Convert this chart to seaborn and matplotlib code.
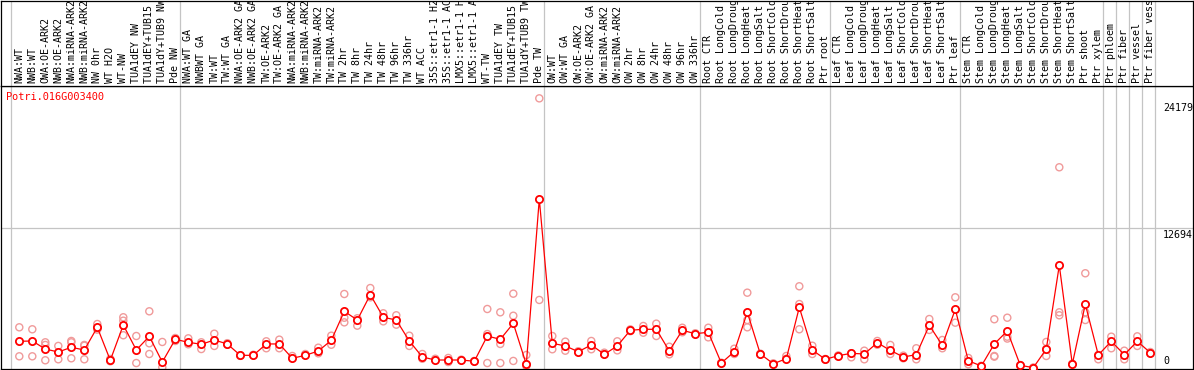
import matplotlib
matplotlib.use("Agg")
import matplotlib.pyplot as plt
import seaborn as sns
import pandas as pd
from matplotlib import transforms

gene = "Potri.016G003400"

labels = [
    "NWA:WT", "NWB:WT", "OWA:OE-ARK2", "NWB:OE-ARK2", "NWA:miRNA-ARK2", "NWB:miRNA-ARK2",
    "NW 0hr", "WT H2O", "WT-NW", "TUA1dEY NW", "TUA1dEY+TUB15 NW", "TUA1dY+TUB9 NW", "Pde NW",
    "NWA:WT GA", "NWBWT GA", "TW:WT", "TW:WT GA", "NWA:OE-ARK2 GA", "NWB:OE-ARK2 GA",
    "TW:OE-ARK2", "TW:OE-ARK2 GA", "NWA:miRNA-ARK2", "NWB:miRNA-ARK2", "TW:miRNA-ARK2",
    "TW:miRNA-ARK2", "TW 2hr", "TW 8hr", "TW 24hr", "TW 48hr", "TW 96hr", "TW 336hr", "WT ACC",
    "35S::etr1-1 H2O", "35S::etr1-1 ACC", "LMX5::etr1-1 H2O", "LMX5::etr1-1 ACC", "WT-TW",
    "TUA1dEY TW", "TUA1dEY+TUB15 TW", "TUA1dY+TUB9 TW", "Pde TW",
    "OW:WT", "OW:WT GA", "OW:OE-ARK2", "OW:OE-ARK2 GA", "OW:miRNA-ARK2", "OW:miRNA-ARK2",
    "OW 2hr", "OW 8hr", "OW 24hr", "OW 48hr", "OW 96hr", "OW 336hr",
    "Root CTR", "Root LongCold", "Root LongDrought", "Root LongHeat", "Root LongSalt",
    "Root ShortCold", "Root ShortDrought", "Root ShortHeat", "Root ShortSalt", "Ptr root",
    "Leaf CTR", "Leaf LongCold", "Leaf LongDrought", "Leaf LongHeat", "Leaf LongSalt",
    "Leaf ShortCold", "Leaf ShortDrought", "Leaf ShortHeat", "Leaf ShortSalt", "Ptr leaf",
    "Stem CTR", "Stem LongCold", "Stem LongDrought", "Stem LongHeat", "Stem LongSalt",
    "Stem ShortCold", "Stem ShortDrought", "Stem ShortHeat", "Stem ShortSalt", "Ptr shoot",
    "Ptr xylem", "Ptr phloem", "Ptr fiber", "Ptr vessel", "Ptr fiber vessel",
]

means = [
    2420, 2450, 1720, 1450, 1880, 1630, 3690, 700, 3900, 1630, 2870, 540, 2600,
    2330, 2150, 2540, 2180, 1150, 1150, 2180, 2180, 880, 1150, 1540, 2510, 5140, 4350,
    6650, 4600, 4350, 2450, 1000, 725, 725, 725, 610, 2900, 2600, 4050, 335, 15320,
    2240, 2000, 1480, 2090, 1240, 2000, 3420, 3510, 3510, 1540, 3420, 3110,
    3240, 450, 1480, 5050, 1270, 390, 840, 5500, 1630, 790,
    1120, 1330, 1270, 2290, 1600, 1000, 1210, 3870, 2060, 5320,
    660, 180, 2180, 3360, 245, 30, 1720, 9310, 360, 5780, 1180,
    2420, 1210, 2420, 1390,
]

replicates = [
    [3690, 1060], [3510, 1060], [2330, 2090, 700], [2000, 790], [2450, 2330, 880],
    [2090, 2020, 790], [3990, 3600, 3480], [820, 610], [4600, 4290, 2970], [2900, 450],
    [5140, 2240, 1270], [2360, 60], [2720, 2450],
    [2690, 2150], [2330, 1720], [3110, 2000], [2250, 2120], [1150, 1100], [1150, 1200],
    [2420, 1790], [2570, 1790], [1090, 880], [1270, 1150], [1840, 1330], [2930, 2110],
    [6710, 4560, 4140], [4510, 3840], [7250, 6410], [4960, 4230], [4780, 3930],
    [2930, 2000], [1270, 840], [840, 725], [910, 540], [760, 700], [640, 580],
    [5350, 3080, 450], [5050, 2180, 450], [6740, 4740, 640], [1180, 335, 180], [24450, 6170],
    [2900, 1700], [2390, 1570], [1520, 1440], [2450, 1700], [1390, 1240], [2420, 1600],
    [3500, 3340], [3810, 3200], [4020, 2900], [1930, 1240], [3650, 3240], [3150, 3070],
    [3650, 2780], [480, 420], [1750, 1270], [6830, 4350, 3690], [1300, 1240], [420, 360],
    [1090, 840], [7410, 5800, 3510], [2020, 1270], [820, 760],
    [1140, 1090], [1330, 970], [1570, 790], [2450, 2110], [2090, 1270], [1120, 880],
    [1790, 790], [4440, 3450], [2540, 1790], [6410, 4110],
    [910, 340], [200, 150], [4420, 1030, 1090], [4560, 2840, 2670], [270, 220], [40, 20],
    [2360, 1720, 1090], [18200, 5050, 4780], [390, 330], [8590, 5050, 4350], [1180, 790],
    [2840, 1790], [1570, 790], [2870, 2000], [1450, 1330],
]

group_last_index = [-1, 12, 40, 52, 62, 72, 83, 84, 85, 86, 87]
ytick_values = [0, 12694, 24179]
grid_value = 12694

mean_df = pd.DataFrame({"idx": range(len(means)), "value": means})
rep_df = pd.DataFrame(
    [(i, v) for i, vals in enumerate(replicates) for v in vals], columns=["idx", "value"]
)

sns.set_style("white")
plt.rcParams["font.family"] = ["DejaVu Sans Mono", "DejaVu Sans"]

W, H = 1194, 370
fig = plt.figure(figsize=(W / 100, H / 100), dpi=100)
ax = fig.add_axes([1 / W, 1 / H, 1192 / W, 283 / H])
hx = fig.add_axes([1 / W, 284 / H, 1192 / W, 85 / H])

# pixel -> data mapping
x0, x1 = (1 - 19.3) / 13, (1193 - 19.3) / 13
px_per_unit = 140 / 12694
ax.set_xlim(x0, x1)
ax.set_ylim((368 - 369) / px_per_unit, (368 - 86) / px_per_unit)
hx.set_xlim(x0, x1)
hx.set_ylim(0, 85)

grid_c = "#c4c4c4"
for a in (ax, hx):
    for e in group_last_index:
        a.axvline(e + 0.36, color=grid_c, lw=0.9, zorder=0)
    a.set_xticks([])
    a.set_yticks([])
    for s in a.spines.values():
        s.set_color("black")
        s.set_linewidth(0.9)
ax.axhline(grid_value, color=grid_c, lw=0.9, zorder=0)

sns.scatterplot(data=rep_df, x="idx", y="value", ax=ax, marker="o", s=26,
                facecolors="none", edgecolors="#f09a9a", linewidth=1.0, zorder=2)
sns.lineplot(data=mean_df, x="idx", y="value", ax=ax, color="red", lw=0.9,
             marker="o", markersize=5.2, markerfacecolor="white",
             markeredgecolor="red", markeredgewidth=1.3, errorbar=None, zorder=3)
ax.set_xlabel("")
ax.set_ylabel("")

fs = 7.2
for i, lab in enumerate(labels):
    hx.text(i, 3, lab, rotation=90, ha="center", va="bottom", fontsize=fs,
            color="black", clip_on=True)

ax.text(5 / 1192, (369 - 97) / 283, gene, transform=ax.transAxes, color="red",
        fontsize=fs + 0.2, ha="left", va="center")

tr = transforms.blended_transform_factory(ax.transAxes, ax.transData)
for v in ytick_values:
    if v == 0:
        t = transforms.offset_copy(tr, fig=fig, x=0, y=2, units="dots")
        va = "bottom"
    else:
        t = transforms.offset_copy(tr, fig=fig, x=0, y=-1.5, units="dots")
        va = "top"
    ax.text(1162 / 1192, v, str(v), transform=t, fontsize=fs, ha="left", va=va,
            color="black")

fig.savefig("out.png", dpi=100)
